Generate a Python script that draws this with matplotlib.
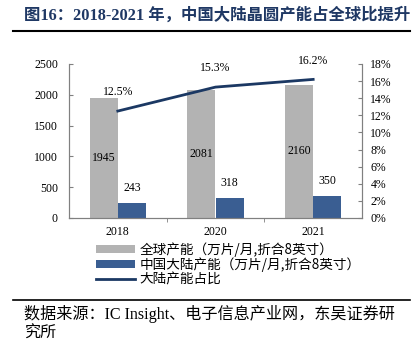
import matplotlib
matplotlib.use("Agg")
import matplotlib.pyplot as plt
from matplotlib.lines import Line2D
from matplotlib.patches import Patch
import numpy as np

plt.rcParams['font.family'] = ['Liberation Serif', 'Noto Sans CJK SC', 'DejaVu Sans']

years = ['2018', '2020', '2021']
global_cap = [1945, 2081, 2160]
china_cap = [243, 318, 350]
share_pct = [12.5, 15.3, 16.2]
left_ticks = [0, 500, 1000, 1500, 2000, 2500]
right_ticks = [0, 2, 4, 6, 8, 10, 12, 14, 16, 18]

gray = '#B3B3B3'
blue = '#3A5E92'
navy = '#1B3863'
axc = '#808080'

fig = plt.figure(figsize=(4.16, 3.43), dpi=100)
ax = fig.add_axes([69/416, 1-218/343, (362-69)/416, (218-64)/343])
ax2 = ax.twinx()

x = np.arange(len(years))
w = 0.29
ax.bar(x - w/2, global_cap, w, color=gray, zorder=2)
ax.bar(x + w/2, china_cap, w, color=blue, zorder=2)
ax.set_ylim(0, 2500)
ax.set_xlim(-0.5, 2.5)
ax.set_yticks(left_ticks)
ax.set_xticks(x)
ax.set_xticklabels(years)
ax.set_xticks([0.5, 1.5], minor=True)
ax.tick_params(axis='x', which='major', length=0, labelsize=8.5, pad=6)
ax.tick_params(axis='x', which='minor', length=3, direction='out', color=axc)
ax.tick_params(axis='y', length=3, direction='in', color=axc, labelsize=8.5, pad=8)

for xi, v in zip(x, global_cap):
    ax.text(xi - w/2, v/2, str(v), ha='center', va='center', fontsize=8.5)
for xi, v in zip(x, china_cap):
    ax.text(xi + w/2, v + 150, str(v), ha='center', va='bottom', fontsize=8.5)

ax2.plot(x, share_pct, color=navy, lw=2, zorder=3)
ax2.set_ylim(0, 18)
ax2.set_yticks(right_ticks)
ax2.set_yticklabels([f'{t}%' for t in right_ticks])
ax2.tick_params(axis='y', length=3, direction='in', color=axc, labelsize=8.5, pad=6)
for xi, v in zip(x, share_pct):
    ax2.text(xi, v + 1.5, f'{v}%', ha='center', va='bottom', fontsize=8.5)

for a in (ax, ax2):
    a.spines['top'].set_visible(False)
    for s in ('left', 'right', 'bottom'):
        a.spines[s].set_color(axc)
        a.spines[s].set_linewidth(0.8)
    a.set_facecolor('none')

handles = [Patch(facecolor=gray, edgecolor='none'),
           Patch(facecolor=blue, edgecolor='none'),
           Line2D([0], [0], color=navy, lw=2)]
labels = ['全球产能（万片/月,折合8英寸）', '中国大陆产能（万片/月,折合8英寸）', '大陆产能占比']
fig.legend(handles, labels, loc='upper left', bbox_to_anchor=(96/416, 1-242/343),
           frameon=False, handlelength=2.9, handleheight=0.55,
           labelspacing=0.05, handletextpad=0.3, borderaxespad=0, borderpad=0,
           prop={'family': ['Noto Sans CJK SC', 'Liberation Serif'], 'size': 9.8})

fig.text(24/416, 1-15/343, '图16：2018-2021 年，中国大陆晶圆产能占全球比提升',
         ha='left', va='center', fontsize=11.8, fontweight='bold', color='#1F3864',
         family=['Liberation Serif', 'Noto Sans CJK SC'])
fig.add_artist(Line2D([13/416, 410/416], [1-31/343, 1-31/343], color='black', lw=1.5))
fig.add_artist(Line2D([13/416, 410/416], [1-300/343, 1-300/343], color='black', lw=1.2))
fig.text(24/416, 1-314/343, '数据来源：IC Insight、电子信息产业网，东吴证券研',
         ha='left', va='center', fontsize=11.6, family=['Liberation Serif', 'Noto Sans CJK SC'])
fig.text(24/416, 1-334/343, '究所', ha='left', va='center', fontsize=11.6,
         family=['Liberation Serif', 'Noto Sans CJK SC'])

fig.savefig('out.png', dpi=100)
